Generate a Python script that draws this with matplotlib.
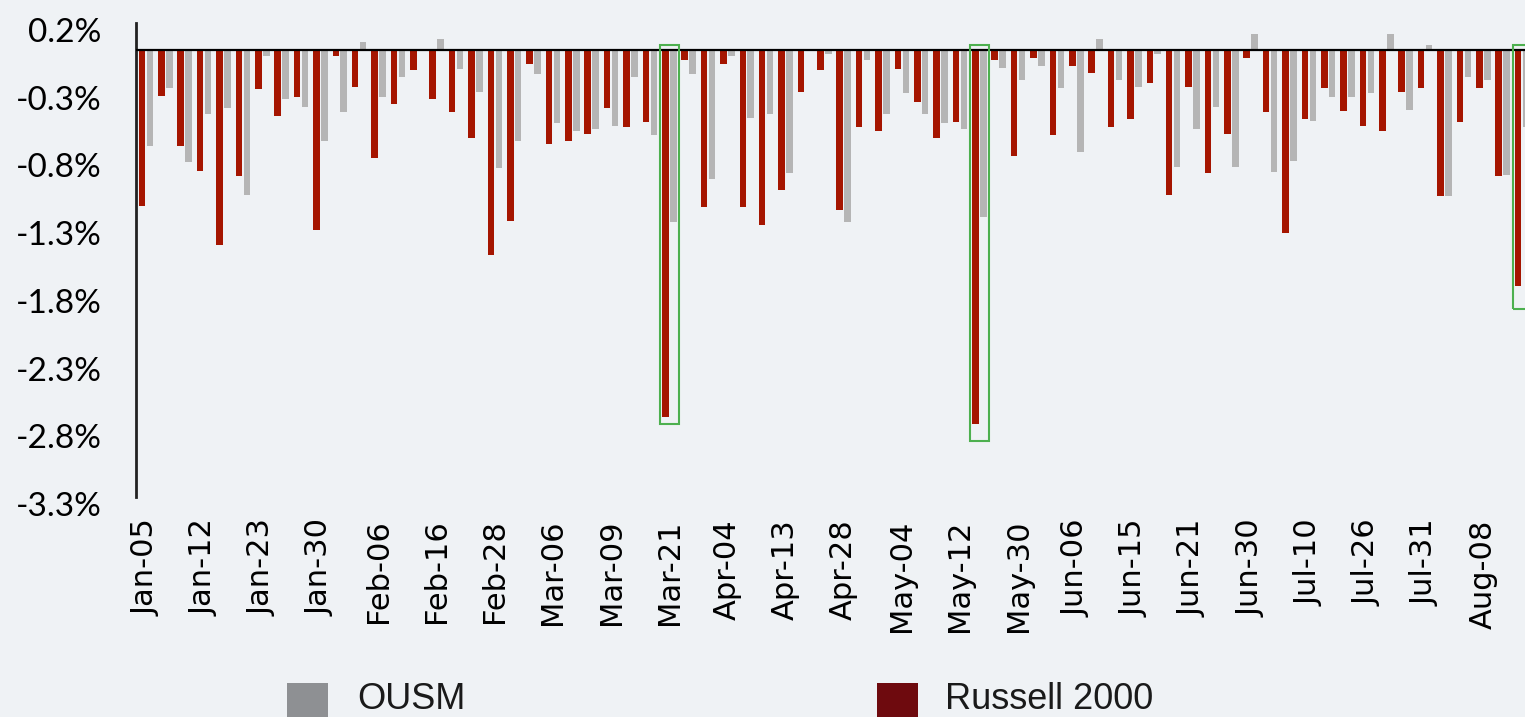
import numpy as np
import matplotlib
matplotlib.use("Agg")
import matplotlib.pyplot as plt
from matplotlib.patches import Rectangle
from matplotlib.transforms import ScaledTranslation

# ---- data (daily returns, %) ----
russell_2000 = [-1.15, -0.34, -0.71, -0.89, -1.44, -0.93, -0.29, -0.49, -0.35, -1.33,
                -0.04, -0.27, -0.80, -0.40, -0.15, -0.36, -0.46, -0.65, -1.51, -1.26,
                -0.10, -0.69, -0.67, -0.62, -0.43, -0.57, -0.53, -2.71, -0.07, -1.16,
                -0.10, -1.16, -1.29, -1.03, -0.31, -0.15, -1.18, -0.57, -0.60, -0.14,
                -0.38, -0.65, -0.53, -2.76, -0.07, -0.78, -0.06, -0.63, -0.12, -0.17,
                -0.57, -0.51, -0.24, -1.07, -0.27, -0.91, -0.62, -0.06, -0.46, -1.35,
                -0.51, -0.28, -0.45, -0.56, -0.60, -0.31, -0.28, -1.08, -0.53, -0.28,
                -0.93, -1.74]
ousm = [-0.71, -0.28, -0.83, -0.47, -0.43, -1.07, -0.045, -0.36, -0.42, -0.67,
        -0.46, 0.06, -0.35, -0.20, -0.01, 0.08, -0.14, -0.31, -0.87, -0.67,
        -0.18, -0.54, -0.60, -0.58, -0.56, -0.20, -0.63, -1.27, -0.18, -0.95,
        -0.045, -0.50, -0.47, -0.91, -0.01, -0.03, -1.27, -0.07, -0.47, -0.32,
        -0.47, -0.54, -0.58, -1.23, -0.13, -0.22, -0.12, -0.28, -0.75, 0.08,
        -0.22, -0.27, -0.03, -0.86, -0.58, -0.42, -0.86, 0.12, -0.90, -0.82,
        -0.52, -0.35, -0.35, -0.32, 0.12, -0.44, 0.04, -1.08, -0.20, -0.22,
        -0.92, -0.57]
tick_labels = ["Jan-05", "Jan-12", "Jan-23", "Jan-30", "Feb-06", "Feb-16", "Feb-28",
               "Mar-06", "Mar-09", "Mar-21", "Apr-04", "Apr-13", "Apr-28", "May-04",
               "May-12", "May-30", "Jun-06", "Jun-15", "Jun-21", "Jun-30", "Jul-10",
               "Jul-26", "Jul-31", "Aug-08"]
label_every = 3
series_names = ["OUSM", "Russell 2000"]
highlight_idx = [27, 43, 71]
highlight_bottom = [-2.76, -2.89, -1.91]

# ---- style ----
BG = "#EFF2F5"
RED = "#A51500"
GRAY = "#B5B5B5"
LEG_GRAY = "#8E9093"
LEG_RED = "#6E0A0E"
GREEN = "#4DB04F"

W, H, DPI = 1525, 717, 100
fig = plt.figure(figsize=(W / DPI, H / DPI), dpi=DPI, facecolor=BG)
ax = fig.add_axes([136.3 / W, 1 - 497 / H, 1395.4 / W, (497 - 23) / H])
ax.set_facecolor(BG)

n = len(russell_2000)
x = np.arange(n)
bw = 0.34
off = 0.205
ax.bar(x - off, russell_2000, width=bw, color=RED, linewidth=0, zorder=2)
ax.bar(x + off, ousm, width=bw, color=GRAY, linewidth=0, zorder=2)
ax.axhline(0, color="black", lw=1.6, zorder=3)

for i, b in zip(highlight_idx, highlight_bottom):
    ax.add_patch(Rectangle((i - 0.48, b), 0.96, 0.037 - b, fill=False,
                           edgecolor=GREEN, lw=1.5, zorder=4, clip_on=False))

ax.set_xlim(-0.5, n - 0.5)
ax.set_ylim(-3.3, 0.2)
yt = np.round(np.arange(0.2, -3.31, -0.5), 1)
ax.set_yticks(yt)
ax.set_yticklabels([f"{v:.1f}%" for v in yt], fontfamily="Lato", fontsize=24)
ax.set_xticks(x[::label_every])
ax.set_xticklabels(tick_labels, rotation=90, fontfamily="DejaVu Sans", fontsize=22)
ax.tick_params(axis="both", length=0)
ax.tick_params(axis="y", pad=25)
ax.tick_params(axis="x", pad=16)
for lab in ax.get_yticklabels():
    lab.set_transform(lab.get_transform() + ScaledTranslation(0, -7 / DPI, fig.dpi_scale_trans))

for s in ["top", "right", "bottom"]:
    ax.spines[s].set_visible(False)
ax.spines["left"].set_color("#222222")
ax.spines["left"].set_linewidth(2)

# ---- legend (manual, at the bottom edge as in reference) ----
leg_items = [(series_names[0], LEG_GRAY, 287, 357), (series_names[1], LEG_RED, 877, 945)]
for name, col, sx, tx in leg_items:
    fig.add_artist(Rectangle((sx / W, -0.02), 41 / W, 0.02 + (717 - 683) / H,
                             transform=fig.transFigure, color=col, lw=0))
    fig.text(tx / W, (717 - 709) / H, name, fontsize=26, family="Liberation Sans",
             color="#1a1a1a", va="baseline", ha="left")

fig.savefig("out.png", dpi=DPI, facecolor=BG)
